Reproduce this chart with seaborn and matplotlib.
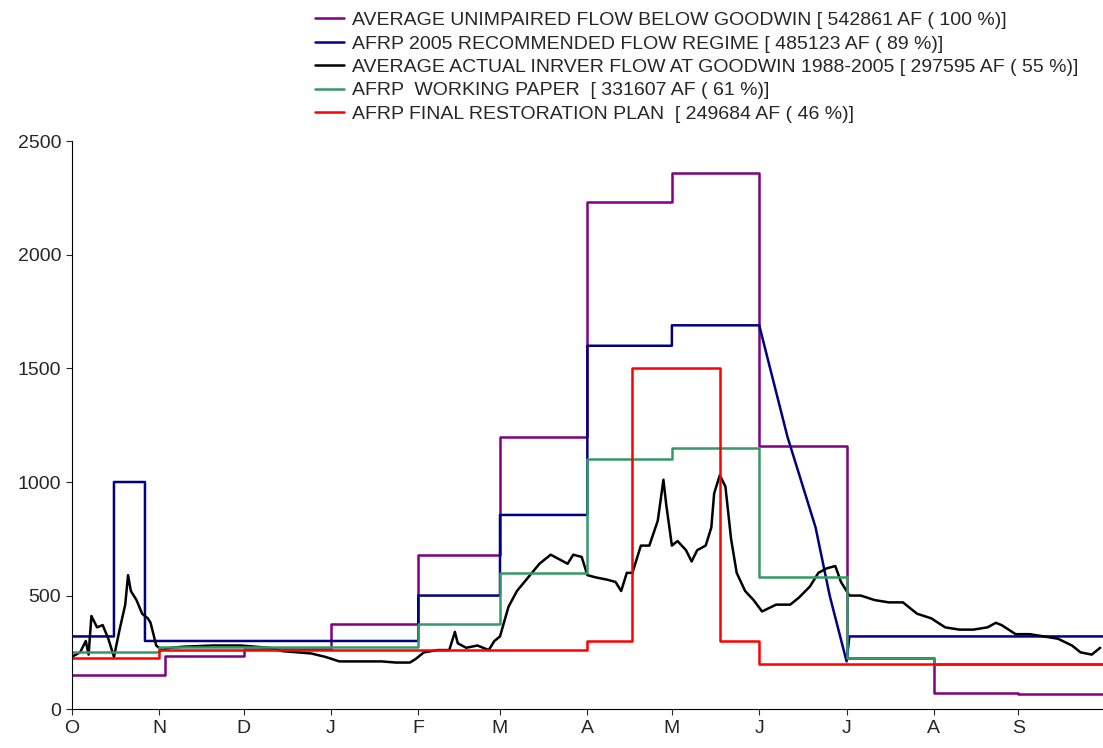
import matplotlib
matplotlib.use("Agg")
import matplotlib.pyplot as plt
import seaborn as sns
import numpy as np
import pandas as pd

sns.set_style("white")
plt.rcParams['font.family'] = ['Liberation Sans', 'DejaVu Sans']

months = ["O","N","D","J","F","M","A","M","J","J","A","S"]
month_starts = [0,31,61,92,123,152,183,213,244,275,306,336]

unimp_days = [0,31,33,61,92,123,152,183,213,244,275,306,336,366]
unimp_vals = [150,150,233,265,375,680,1200,2235,2360,1160,225,70,65,65]

afrp05_days = [0,15,25,26,123,152,183,213,244,254,264,269,275,276,366]
afrp05_vals = [320,1000,1000,300,500,855,1600,1690,1690,1200,800,500,210,320,320]

work_days = [0,31,123,152,183,213,244,275,306,366]
work_vals = [250,275,375,600,1100,1150,580,225,200,200]

final_days = [0,31,183,199,230,244,366]
final_vals = [225,260,300,1500,300,200,200]

act_days = [0,3,5,6,7,9,11,13,15,17,19,20,21,23,25,27,28,30,32,35,40,50,60,70,75,80,85,90,95,100,110,115,120,122,125,130,134,136,137,140,144,148,150,152,155,158,162,166,168,170,173,176,178,181,183,186,190,193,195,197,199,202,205,208,210,211,213,215,218,220,222,225,227,228,230,232,234,236,239,242,245,250,255,258,262,265,268,271,273,276,280,285,290,295,300,305,310,315,320,325,328,330,335,340,345,350,355,358,362,365]
act_vals = [230,250,300,240,410,360,370,310,230,350,460,590,520,480,420,400,380,280,260,270,275,280,280,270,255,250,245,230,210,210,210,205,205,220,250,260,260,340,290,270,280,260,300,320,450,520,580,640,660,680,660,640,680,670,590,580,570,560,520,600,600,720,720,830,1010,900,720,740,700,650,700,720,800,950,1030,980,750,600,520,480,430,460,460,490,540,600,620,630,560,500,500,480,470,470,420,400,360,350,350,360,380,370,330,330,320,310,280,250,240,270]

labels = ["AVERAGE UNIMPAIRED FLOW BELOW GOODWIN [ 542861 AF ( 100 %)]",
          "AFRP 2005 RECOMMENDED FLOW REGIME [ 485123 AF ( 89 %)]",
          "AVERAGE ACTUAL INRVER FLOW AT GOODWIN 1988-2005 [ 297595 AF ( 55 %)]",
          "AFRP  WORKING PAPER  [ 331607 AF ( 61 %)]",
          "AFRP FINAL RESTORATION PLAN  [ 249684 AF ( 46 %)]"]

fig = plt.figure(figsize=(11.03, 7.48), dpi=100)
ax = fig.add_axes([0.065, 0.052, 0.935, 0.759])

def steps(d, v, linear=None):
    xs, ys = [], []
    for i in range(len(d)):
        if i > 0 and not (linear and linear[0] <= d[i-1] < linear[1]):
            xs.append(d[i]); ys.append(v[i-1])
        xs.append(d[i]); ys.append(v[i])
    return pd.DataFrame({"d": xs, "v": ys})

u = steps(unimp_days, unimp_vals)
b = steps(afrp05_days, afrp05_vals, linear=(244, 276))
w = steps(work_days, work_vals)
f = steps(final_days, final_vals)
a = pd.DataFrame({"d": act_days, "v": act_vals})

kw = dict(sort=False, estimator=None, ax=ax, lw=1.8)
sns.lineplot(data=u, x="d", y="v", color="#800080", label=labels[0], **kw)
sns.lineplot(data=b, x="d", y="v", color="#000080", label=labels[1], **kw)
sns.lineplot(data=a, x="d", y="v", color="black", label=labels[2], **kw)
sns.lineplot(data=w, x="d", y="v", color="#339966", label=labels[3], **kw)
sns.lineplot(data=f, x="d", y="v", color="#FF0000", label=labels[4], **kw)

ax.set_xlim(0, 366)
ax.set_ylim(0, 2500)
ax.set_yticks(range(0, 2501, 500))
ax.set_xticks(month_starts)
ax.set_xticklabels(months)
ax.set_xlabel(""); ax.set_ylabel("")
ax.tick_params(axis='both', labelsize=14, direction='out', length=4, left=True, bottom=True)
for s in ["top", "right"]:
    ax.spines[s].set_visible(False)
for s in ["left", "bottom"]:
    ax.spines[s].set_color("black")
ax.legend(loc="upper left", bbox_to_anchor=(0.27, 1.008), bbox_transform=fig.transFigure,
          frameon=False, fontsize=14, handlelength=1.5, handletextpad=0.4, labelspacing=0.3)
fig.savefig("out.png", dpi=100)
